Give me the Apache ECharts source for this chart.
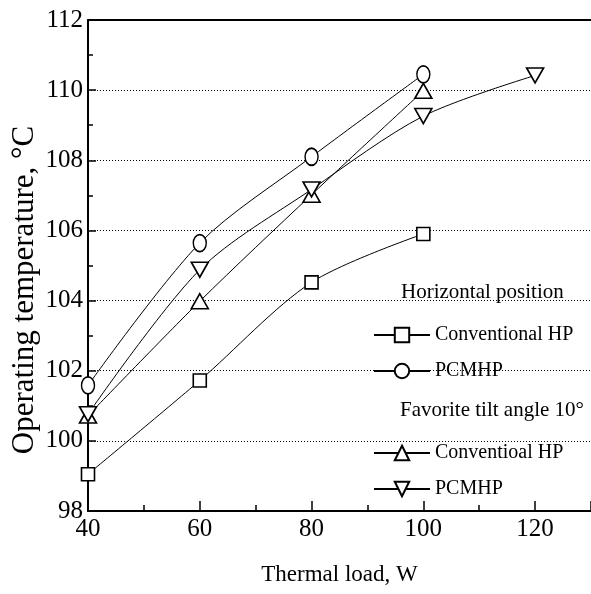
<!DOCTYPE html>
<html>
<head>
<meta charset="utf-8">
<script src="https://cdn.jsdelivr.net/npm/echarts@6/dist/echarts.min.js"></script>
<style>
  html, body { margin: 0; padding: 0; background: #fff; }
  #main { width: 591px; height: 594px; }
</style>
</head>
<body>
<div id="main"></div>
<script>
// thermal load, W
var loads = [40, 60, 80, 100, 120];
// horizontal position
var horizConv = [99.05, 101.72, 104.52, 105.9];
var horizPcm = [101.58, 105.64, 108.1, 110.45];
// favorite tilt angle 10°
var tiltConv = [100.72, 103.98, 107.02, 109.98];
var tiltPcm = [100.76, 104.88, 107.17, 109.26, 110.42];
var yTicks = [98, 100, 102, 104, 106, 108, 110, 112];

function pairs(vals) {
  return vals.map(function (v, i) { return [loads[i], v]; });
}

var font = 'Liberation Serif';
var chartDom = document.getElementById('main');
var myChart = echarts.init(chartDom);
var option;

function mkSeries(name, vals, symbol, size, rotate) {
  return {
    name: name,
    type: 'line',
    data: pairs(vals),
    smooth: 0.3,
    symbol: symbol,
    symbolSize: size,
    symbolRotate: rotate || 0,
    showAllSymbol: true,
    lineStyle: { color: '#000', width: 1 },
    itemStyle: { color: '#fff', borderColor: '#000', borderWidth: 1.6 },
    emphasis: { disabled: true },
    z: 3
  };
}

option = {
  animation: false,
  backgroundColor: '#fff',
  grid: { left: 88, right: 0, top: 20, bottom: 83, outerBoundsMode: 'none', containLabel: false },
  xAxis: [
    {
      type: 'value',
      min: 40,
      max: 130,
      interval: 20,
      name: 'Thermal load, W',
      nameLocation: 'middle',
      nameGap: 52,
      nameTextStyle: { fontFamily: font, fontSize: 23, color: '#000' },
      axisLine: { lineStyle: { color: '#000', width: 2 } },
      axisTick: { inside: true, length: 10, lineStyle: { color: '#000', width: 1.5 } },
      minorTick: { show: true, splitNumber: 2, length: 6, lineStyle: { color: '#000', width: 1.5 } },
      axisLabel: { fontFamily: font, fontSize: 25, color: '#000', margin: 6, showMaxLabel: false },
      splitLine: { show: false }
    },
    {
      type: 'value',
      position: 'top',
      min: 40,
      max: 130,
      axisLine: { show: true, lineStyle: { color: '#000', width: 2 } },
      axisTick: { show: false },
      axisLabel: { show: false },
      splitLine: { show: false }
    }
  ],
  yAxis: {
    type: 'value',
    min: yTicks[0],
    max: yTicks[yTicks.length - 1],
    interval: 2,
    axisLine: { show: true, lineStyle: { color: '#000', width: 2 } },
    axisTick: { inside: true, length: 8, lineStyle: { color: '#000', width: 1.5 } },
    minorTick: { show: true, splitNumber: 2, length: 5, lineStyle: { color: '#000', width: 1.5 } },
    axisLabel: { fontFamily: font, fontSize: 25, color: '#000', margin: 5 },
    splitLine: { show: true, lineStyle: { color: '#000', width: 1, type: [1, 2] } }
  },
  legend: [
    {
      data: ['Conventional HP', 'PCMHP'],
      orient: 'vertical',
      left: 368,
      top: 320,
      itemWidth: 56,
      itemHeight: 18,
      itemGap: 16,
      selectedMode: false,
      textStyle: { fontFamily: font, fontSize: 20, color: '#000' }
    },
    {
      data: ['Conventioal HP', 'PCMHP (tilt)'],
      orient: 'vertical',
      left: 368,
      top: 438,
      itemWidth: 56,
      itemHeight: 18,
      itemGap: 16,
      selectedMode: false,
      formatter: function (name) { return name.replace(' (tilt)', ''); },
      textStyle: { fontFamily: font, fontSize: 20, color: '#000' }
    }
  ],
  graphic: [
    {
      type: 'text',
      x: 25,
      y: 290,
      rotation: Math.PI / 2,
      style: {
        text: 'Operating temperature, °C', fontFamily: font, fontSize: 31, fill: '#000',
        align: 'center', verticalAlign: 'middle'
      }
    },
    {
      type: 'text',
      left: 401,
      top: 282,
      style: { text: 'Horizontal position', fontFamily: font, fontSize: 21, fill: '#000', backgroundColor: '#fff' }
    },
    {
      type: 'text',
      left: 400,
      top: 400,
      style: { text: 'Favorite tilt angle 10°', fontFamily: font, fontSize: 21, fill: '#000', backgroundColor: '#fff' }
    }
  ],
  series: [
    mkSeries('Conventional HP', horizConv, 'rect', 13),
    mkSeries('PCMHP', horizPcm, 'circle', [13, 17]),
    mkSeries('Conventioal HP', tiltConv, 'triangle', [17, 15]),
    mkSeries('PCMHP (tilt)', tiltPcm, 'triangle', [17, 15], 180)
  ]
};

option && myChart.setOption(option);
</script>
</body>
</html>
